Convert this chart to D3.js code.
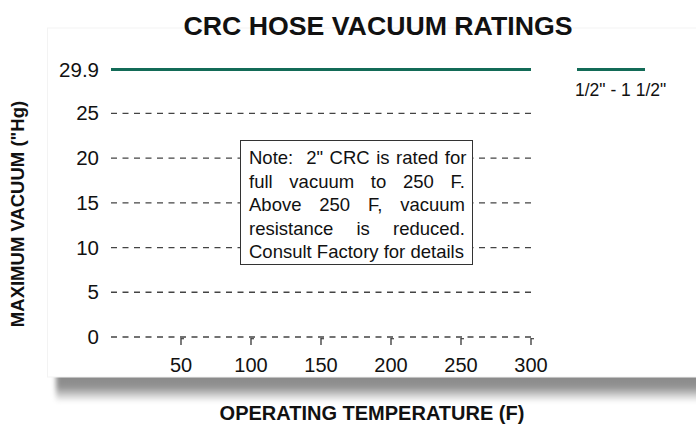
<!DOCTYPE html>
<html><head><meta charset="utf-8">
<script src="https://cdn.jsdelivr.net/npm/d3@7"></script>
<style>body{margin:0;background:#fff}svg{display:block;font-family:"Liberation Sans",Arial,sans-serif}</style>
</head><body>
<svg id="c" width="696" height="426"></svg>
<script>
const yTicks = [0, 5, 10, 15, 20, 25];
const xTicks = [50, 100, 150, 200, 250, 300];
const seriesName = "1/2\" - 1 1/2\"";
const seriesX = [0, 300];
const seriesY = [29.9, 29.9];
const noteLines = ["Note:\u00a0 2\" CRC is rated for", "full vacuum to 250 F.", "Above 250 F, vacuum", "resistance is reduced.", "Consult Factory for details"];

const svg = d3.select("#c");
const x = d3.scaleLinear().domain([0, 300]).range([111, 531]);
const y = d3.scaleLinear().domain([0, 29.9]).range([337, 69.5]);

const defs = svg.append("defs");
const grad = defs.append("linearGradient").attr("id","sh").attr("x1",0).attr("y1",0).attr("x2",0).attr("y2",1);
grad.append("stop").attr("offset","0%").attr("stop-color","#868686");
grad.append("stop").attr("offset","50%").attr("stop-color","#929292");
grad.append("stop").attr("offset","100%").attr("stop-color","#fff");
const f = defs.append("filter").attr("id","bl").attr("x","-5%").attr("y","-50%").attr("width","110%").attr("height","200%");
f.append("feGaussianBlur").attr("stdDeviation","2.5");

svg.append("rect").attr("x",56).attr("y",372).attr("width",680).attr("height",30).attr("fill","url(#sh)").attr("filter","url(#bl)");
svg.append("rect").attr("x",47.5).attr("y",28).attr("width",660).attr("height",349).attr("fill","#fff").attr("stroke","#f3f3f3");

svg.append("text").attr("x",378).attr("y",35).attr("text-anchor","middle").attr("font-weight","bold").attr("font-size",26.7).attr("fill","#111").text("CRC HOSE VACUUM RATINGS");

svg.append("g").selectAll("line").data(yTicks).join("line")
  .attr("x1",x(0)).attr("x2",x(300)).attr("y1",d=>y(d)).attr("y2",d=>y(d))
  .attr("stroke","#444").attr("stroke-width",1.3).attr("stroke-dasharray","6,5.5");

svg.append("g").selectAll("text").data(yTicks.concat([29.9])).join("text")
  .attr("x",99).attr("y",d=>y(d)+7).attr("text-anchor","end").attr("font-size",20.5).attr("fill","#111")
  .text(d=>d===29.9?"29.9":d);

const xa = svg.append("g").attr("transform",`translate(0,${y(0)})`);
xa.selectAll("line.t").data(xTicks).join("line").attr("class","t")
  .attr("x1",d=>x(d)).attr("x2",d=>x(d)).attr("y1",1).attr("y2",8).attr("stroke","#444").attr("stroke-width",1.4);
xa.selectAll("line.c").data(xTicks).join("line").attr("class","c")
  .attr("x1",d=>x(d)).attr("x2",d=>x(d)+3).attr("y1",1.7).attr("y2",1.7).attr("stroke","#444").attr("stroke-width",1.2);
xa.selectAll("text").data(xTicks).join("text")
  .attr("x",d=>x(d)).attr("y",35).attr("text-anchor","middle").attr("font-size",20).attr("fill","#111").text(d=>d);

svg.append("path").datum(seriesX.map((v,i)=>[v,seriesY[i]]))
  .attr("d", d3.line().x(d=>x(d[0])).y(d=>y(d[1])))
  .attr("stroke","#136b57").attr("stroke-width",3).attr("fill","none");

svg.append("line").attr("x1",577).attr("x2",645).attr("y1",69.5).attr("y2",69.5).attr("stroke","#136b57").attr("stroke-width",3);
svg.append("text").attr("x",575).attr("y",96).attr("font-size",17.5).attr("fill","#111").text(seriesName);

svg.append("rect").attr("x",240.5).attr("y",140.5).attr("width",232).attr("height",124).attr("fill","#fff").attr("stroke","#333").attr("stroke-width",1);
const nt = svg.append("g").selectAll("text").data(noteLines).join("text")
  .attr("x",249).attr("y",(d,i)=>164+i*23.6).attr("font-size",18.5).attr("fill","#111").text(d=>d);
nt.each(function(d,i){
  if(i===noteLines.length-1) return;
  const w = this.getComputedTextLength();
  const n = d.trim().split(/ +/).length - 1;
  const target = 216;
  if(n>0 && w<target) d3.select(this).attr("word-spacing",(target-w)/n);
});

svg.append("text").attr("transform","translate(24,214) rotate(-90)").attr("text-anchor","middle").attr("font-weight","bold").attr("font-size",18.5).attr("fill","#111").text("MAXIMUM VACUUM (\"Hg)");
svg.append("text").attr("x",372).attr("y",420).attr("text-anchor","middle").attr("font-weight","bold").attr("font-size",20).attr("fill","#111").text("OPERATING TEMPERATURE (F)");
</script>
</body></html>
